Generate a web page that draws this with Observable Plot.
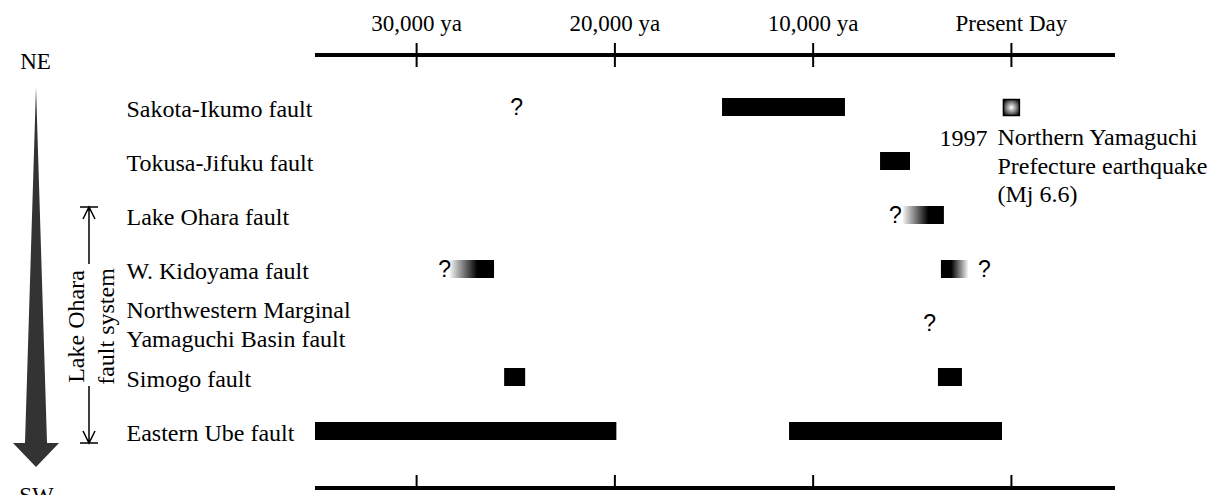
<!DOCTYPE html>
<html><head><meta charset="utf-8">
<script src="https://cdn.jsdelivr.net/npm/d3@7"></script>
<script src="https://cdn.jsdelivr.net/npm/@observablehq/plot@0.6"></script>
<style>body{margin:0;background:#fff} #chart svg{display:block}</style>
</head><body><div id="chart"></div>
<script>
// ---- data (years ago) ----
const faults = ["Sakota-Ikumo fault", "Tokusa-Jifuku fault", "Lake Ohara fault", "W. Kidoyama fault",
  "Northwestern Marginal\nYamaguchi Basin fault", "Simogo fault", "Eastern Ube fault"];
const tickValues = [30000, 20000, 10000, 0];
const tickLabels = ["30,000 ya", "20,000 ya", "10,000 ya", "Present Day"];

// solid activity periods
const solidFault = [faults[0], faults[1], faults[5], faults[5], faults[6], faults[6]];
const solidStart = [14570, 6600, 25560, 3680, 35100, 11190];
const solidEnd   = [8370, 5090, 24500, 2470, 19900, 450];

// uncertain periods fading toward the older side
const fadeOldFault = [faults[2], faults[3]];
const fadeOldStart = [5440, 28290];
const fadeOldEnd   = [3380, 26070];

// uncertain periods fading toward the younger side
const fadeYoungFault = [faults[3]];
const fadeYoungStart = [3530];
const fadeYoungEnd   = [2170];

// question marks
const qFault = [faults[0], faults[2], faults[3], faults[3], faults[4]];
const qYear  = [24960, 5850, 28590, 1360, 4130];

// 1997 earthquake
const quakeFault = faults[0];
const quakeYear = 0;
const quakeYearLabel = "1997";
const quakeLabel = "Northern Yamaguchi\nPrefecture earthquake\n(Mj 6.6)";
const groupLabel = "Lake Ohara\nfault system";

// ---- tables ----
const solid = solidFault.map((f, i) => ({fault: f, start: solidStart[i], end: solidEnd[i]}));
const fadeOld = fadeOldFault.map((f, i) => ({fault: f, start: fadeOldStart[i], end: fadeOldEnd[i]}));
const fadeYoung = fadeYoungFault.map((f, i) => ({fault: f, start: fadeYoungStart[i], end: fadeYoungEnd[i]}));
const quest = qFault.map((f, i) => ({fault: f, year: qYear[i]}));
const quake = [{fault: quakeFault, year: quakeYear}];
const ticks = tickValues.map((v, i) => ({year: v, label: tickLabels[i]}));

const serif = "Liberation Serif, DejaVu Serif, serif";
const sans = "Liberation Sans, DejaVu Sans, sans-serif";

function decor(index, scales, values, dims) {
  const {width, height, marginTop, marginBottom, marginLeft, marginRight} = dims;
  const g = d3.create("svg:g");
  [marginTop, height - marginBottom].forEach(y =>
    g.append("line").attr("x1", marginLeft).attr("x2", width - marginRight)
      .attr("y1", y).attr("y2", y).attr("stroke", "black").attr("stroke-width", 4));
  // NE -> SW arrow
  g.append("path").attr("d", "M36,87 L47,443 L59,443 L36,467 L13,443 L25,443 Z").attr("fill", "#333");
  // bracket for the Lake Ohara fault system
  const y = scales.y, bw = y.bandwidth();
  const top = y(faults[2]) + bw / 2 - 8, bot = y(faults[6]) + bw / 2 + 12;
  const bx = 89;
  const st = sel => sel.attr("stroke", "black").attr("stroke-width", 1.5).attr("fill", "none");
  g.append("path").call(st).attr("d",
    `M${bx - 9},${top} H${bx + 9} M${bx},${top} V${top + 57} M${bx - 6},${top + 12} L${bx},${top} L${bx + 6},${top + 12}` +
    `M${bx - 9},${bot} H${bx + 9} M${bx},${bot} V${bot - 57} M${bx - 6},${bot - 12} L${bx},${bot} L${bx + 6},${bot - 12}`);
  return g.node();
}

const svg = Plot.plot({
  width: 1210, height: 495,
  marginTop: 55, marginBottom: 7, marginLeft: 315, marginRight: 95,
  style: {fontFamily: serif, background: "white", overflow: "visible"},
  x: {domain: [35100, -5250], axis: null},
  y: {type: "band", domain: faults, range: [96, 442], paddingInner: 0.6707, paddingOuter: 0, axis: null},
  marks: [
    decor,
    // axis ticks (top crossing, bottom inward)
    Plot.ruleX(tickValues, {x: d => d, insetTop: -12, insetBottom: 421, stroke: "black", strokeWidth: 2}),
    Plot.ruleX(tickValues, {x: d => d, insetTop: 420, insetBottom: 0, stroke: "black", strokeWidth: 2}),
    Plot.text(ticks, {x: "year", text: "label", frameAnchor: "top", lineAnchor: "bottom", dy: -25, fontSize: 23, fontFamily: serif, fill: "black"}),
    // row labels
    Plot.text(faults, {y: d => d, text: d => d, frameAnchor: "left", textAnchor: "start", dx: -189, dy: 0, fontSize: 24, lineHeight: 1.2, fontFamily: serif, fill: "black"}),
    // bars
    Plot.barX(solid, {x1: "start", x2: "end", y: "fault", fill: "black"}),
    Plot.barX(fadeOld, {x1: "start", x2: "end", y: "fault", fill: "url(#fadeOld)"}),
    Plot.barX(fadeYoung, {x1: "start", x2: "end", y: "fault", fill: "url(#fadeYoung)"}),
    Plot.text(quest, {x: "year", y: "fault", text: () => "?", fontSize: 23, fontFamily: sans, fill: "black"}),
    // earthquake
    Plot.dot(quake, {x: "year", y: "fault", symbol: "square", r: 9, fill: "url(#quake)", stroke: "black", strokeWidth: 1.5}),
    Plot.text(quake, {x: "year", y: "fault", text: () => quakeYearLabel, textAnchor: "end", lineAnchor: "top", dx: -24, dy: 21, fontSize: 24, fontFamily: serif, fill: "black"}),
    Plot.text(quake, {x: "year", y: "fault", text: () => quakeLabel, textAnchor: "start", lineAnchor: "top", dx: -14, dy: 18, lineHeight: 1.17, fontSize: 24, fontFamily: serif, fill: "black"}),
    // direction labels
    Plot.text(["NE"], {text: d => d, frameAnchor: "top-left", textAnchor: "middle", lineAnchor: "middle", dx: -280, dy: 6, fontSize: 23, fontFamily: serif, fill: "black"}),
    Plot.text(["SW"], {text: d => d, frameAnchor: "bottom-left", textAnchor: "middle", lineAnchor: "middle", dx: -279, dy: 7, fontSize: 23, fontFamily: serif, fill: "black"}),
    // group label
    Plot.text([groupLabel], {y: () => faults[4], text: d => d, frameAnchor: "left", textAnchor: "middle", rotate: -90, dx: -226, dy: 3, lineHeight: 1.25, fontSize: 24, fontFamily: serif, fill: "black"})
  ]
});

// force fonts (serif everywhere, sans for the question marks)
d3.select(svg).selectAll("text").each(function() {
  const isQ = this.textContent.trim() === "?";
  this.style.fontFamily = isQ ? sans : serif;
});

// gradient definitions
const ns = "http://www.w3.org/2000/svg";
const defs = document.createElementNS(ns, "defs");
function grad(type, id, stops, attrs = {}) {
  const el = document.createElementNS(ns, type);
  el.setAttribute("id", id);
  for (const [k, v] of Object.entries(attrs)) el.setAttribute(k, v);
  for (const [o, c] of stops) {
    const s = document.createElementNS(ns, "stop");
    s.setAttribute("offset", o); s.setAttribute("stop-color", c);
    el.appendChild(s);
  }
  defs.appendChild(el);
}
grad("linearGradient", "fadeOld", [["0%", "#f2f2f2"], ["62%", "#000"], ["100%", "#000"]]);
grad("linearGradient", "fadeYoung", [["0%", "#000"], ["38%", "#000"], ["100%", "#f2f2f2"]]);
grad("radialGradient", "quake", [["0%", "#fff"], ["100%", "#000"]], {r: "65%"});
svg.insertBefore(defs, svg.firstChild);
document.getElementById("chart").appendChild(svg);
</script>
</body></html>
